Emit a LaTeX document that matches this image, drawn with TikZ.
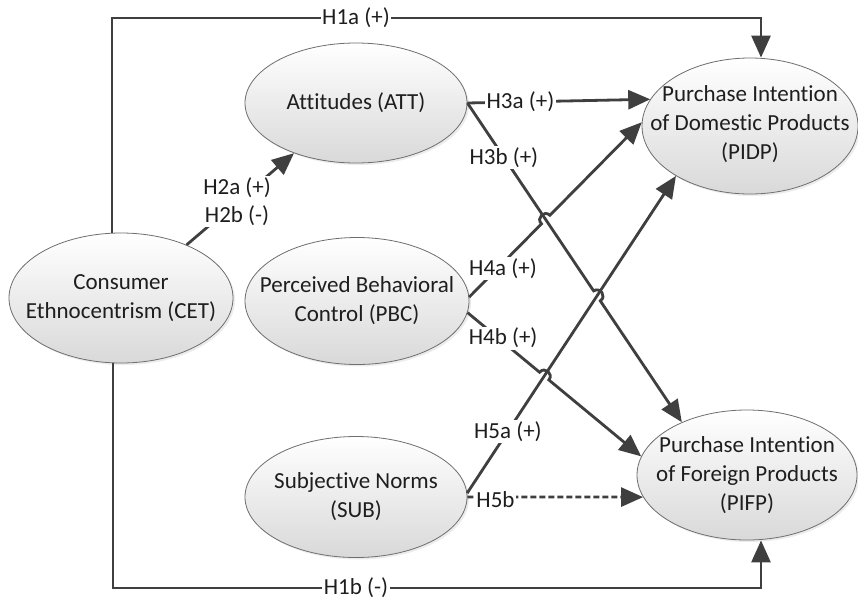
\documentclass[tikz,border=0pt]{standalone}
\usepackage{fontspec}
\setmainfont{Carlito}[Ligatures=NoCommon]
\usetikzlibrary{shapes.geometric,arrows.meta,calc,intersections,shadows}
\definecolor{ln}{HTML}{3F3F3F}
\definecolor{eb}{HTML}{6E6E6E}
\definecolor{tx}{HTML}{1E1E1E}
\begin{document}
\begin{tikzpicture}[x=1pt,y=-1pt,
  ell/.style={ellipse,draw=eb,line width=0.8pt,top color=white,bottom color=black!15,inner sep=0pt,
    drop shadow={shadow xshift=2pt,shadow yshift=-2pt,opacity=0.15}},
  txt/.style={align=center,font=\fontsize{23}{29}\selectfont,text=tx,inner sep=0pt},
  lbl/.style={fill=white,inner sep=1.5pt,font=\fontsize{23}{28}\selectfont,text=tx,align=center},
  conn/.style={draw=ln,line width=2.8pt},
  arr/.style={conn,-{Triangle[length=22pt,width=19pt]}},
]
\fill[white] (0,0) rectangle (858,600);
\useasboundingbox (0,0) rectangle (858,600);

% ellipses
\node[ell,minimum width=222,minimum height=120] (att) at (356,103) {};
\node[ell,minimum width=224,minimum height=130] (cet) at (121,298) {};
\node[ell,minimum width=224,minimum height=127] (pbc) at (357,301) {};
\node[ell,minimum width=222,minimum height=121] (sub) at (356,497) {};
\node[ell,minimum width=216,minimum height=136] (pidp) at (750,126) {};
\node[ell,minimum width=220,minimum height=130] (pifp) at (747,475) {};

\node[txt] (att-t) at (att) {Attitudes (ATT)};
\node[txt] (cet-t) at (cet) {Consumer\\Ethnocentrism (CET)};
\node[txt] (pbc-t) at (pbc) {Perceived Behavioral\\Control (PBC)};
\node[txt] (sub-t) at (sub) {Subjective Norms\\(SUB)};
\node[txt] (pidp-t) at ($(pidp)+(0,-2)$) {Purchase Intention\\of Domestic Products\\(PIDP)};
\node[txt] (pifp-t) at (pifp) {Purchase Intention\\of Foreign Products\\(PIFP)};

% helper coordinates
\coordinate (ytop) at (0,18);
\coordinate (ybot) at (0,588);
\coordinate (c1) at ($(cet.north)+(-9,0)$);
\coordinate (d1) at ($(pidp.north)+(11,0)$);
\coordinate (c2) at ($(cet.south)+(-8,0)$);
\coordinate (d2) at ($(pifp.south)+(14,0)$);

% invisible straight paths for crossings
\path[name path=p3b] (att.east) -- (pifp.141);
\path[name path=p4a] (pbc.2) -- (pidp.178);
\path[name path=p4b] (pbc.-6) -- (pifp.170);
\path[name path=p5a] (sub.2) -- (pidp.214);
\path[name intersections={of=p4a and p3b, by=x1}];
\path[name intersections={of=p3b and p5a, by=x2}];
\path[name intersections={of=p4b and p5a, by=x3}];
\coordinate (a1) at ($(x1)!6pt!(pbc.2)$);
\coordinate (b1) at ($(x1)!6pt!(pidp.178)$);
\coordinate (a2) at ($(x2)!6pt!(att.east)$);
\coordinate (b2) at ($(x2)!6pt!(pifp.141)$);
\coordinate (a3) at ($(x3)!6pt!(pbc.-6)$);
\coordinate (b3) at ($(x3)!6pt!(pifp.170)$);

% connectors
\draw[arr] (c1) -- (c1 |- ytop) -- (d1 |- ytop) -- (d1);
\draw[arr] (c2) -- (c2 |- ybot) -- (d2 |- ybot) -- (d2);
\draw[arr] (cet.39) -- (att.219);
\draw[arr] (att.east) -- (pidp.165);
\draw[arr] (att.east) -- (a2) .. controls ($(a2)!8pt!90:(x2)$) and ($(b2)!8pt!-90:(x2)$) .. (b2) -- (pifp.141);
\draw[arr] (pbc.2) -- (a1) .. controls ($(a1)!8pt!90:(x1)$) and ($(b1)!8pt!-90:(x1)$) .. (b1) -- (pidp.178);
\draw[arr] (pbc.-6) -- (a3) .. controls ($(a3)!8pt!90:(x3)$) and ($(b3)!8pt!-90:(x3)$) .. (b3) -- (pifp.170);
\draw[arr] (sub.2) -- (pidp.214);
\draw[arr,dash pattern=on 6pt off 3pt] (sub.east) -- (pifp.192);

% labels
\node[lbl] (l1a) at (356,18) {H1a (+)};
\node[lbl] (l1b) at (356,588) {H1b (-)};
\node[lbl] (l2) at ($(cet.39)!0.47!(att.219)$) {H2a (+)\\H2b (-)};
\node[lbl] (l3a) at ($(att.east)!0.29!(pidp.165)$) {H3a (+)};
\node[lbl] (l3b) at ($(att.east)!0.17!(pifp.141)$) {H3b (+)};
\node[lbl,yshift=-6pt] (l4a) at ($(pbc.2)!0.196!(pidp.178)$) {H4a (+)};
\node[lbl,yshift=4pt] (l4b) at ($(pbc.-6)!0.205!(pifp.170)$) {H4b (+)};
\node[lbl] (l5a) at ($(sub.2)!0.195!(pidp.214)$) {H5a (+)};
\node[lbl,yshift=-3pt] (l5b) at ($(sub.east)!0.16!(pifp.192)$) {H5b};
\end{tikzpicture}
\end{document}
